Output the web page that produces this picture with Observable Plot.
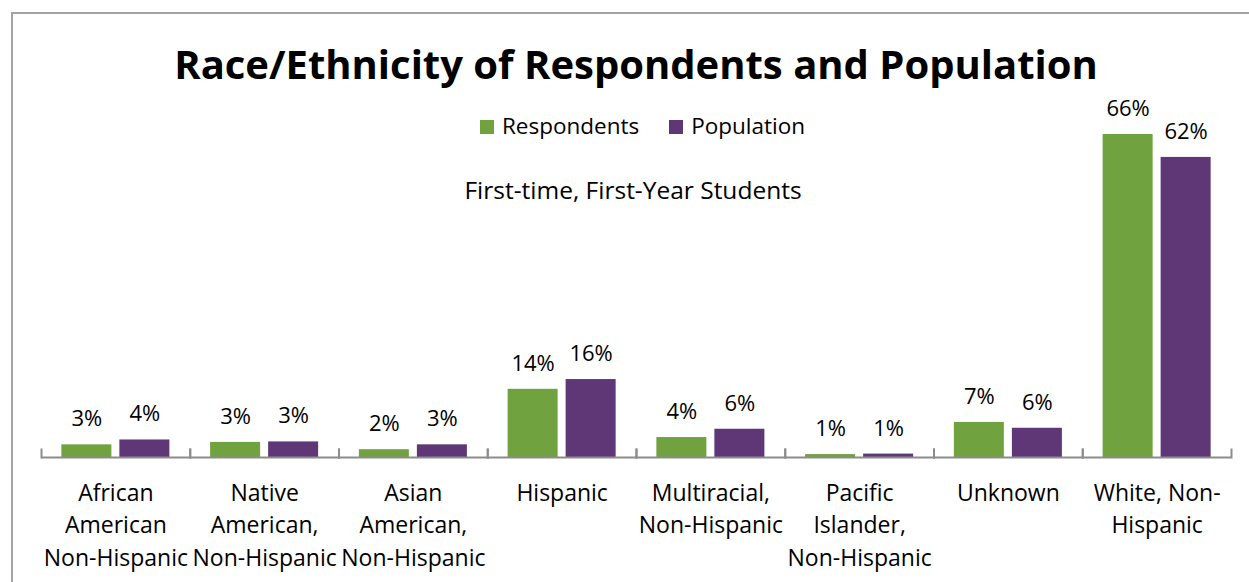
<!DOCTYPE html>
<html>
<head>
<meta charset="utf-8">
<script src="https://cdn.jsdelivr.net/npm/d3@7"></script>
<script src="https://cdn.jsdelivr.net/npm/@observablehq/plot@0.6"></script>
<style>
  html, body { margin: 0; padding: 0; background: #fff; }
  #wrap { position: relative; width: 1249px; height: 582px; overflow: hidden; background: #fff; font-family: "Open Sans", Lato, sans-serif; color: #000; }
  #border { position: absolute; left: 11px; top: 12px; width: 1400px; height: 800px; border: 2px solid #a3a3a3; box-sizing: border-box; }
  #chart { position: absolute; left: 0; top: 0; }
  .abs { position: absolute; white-space: nowrap; line-height: 1; box-sizing: border-box; }
  #title { left: 0; width: 1249px; text-align: center; top: 44px; font-size: 40px; font-weight: 700; padding-left: 23px; }
  #legend { left: 0; width: 1249px; top: 115px; font-size: 22.5px; display: flex; justify-content: center; padding-left: 36px; }
  .item { display: inline-flex; align-items: baseline; margin: 0 15px; }
  .sw { display: inline-block; width: 14px; height: 14px; margin-right: 8px; }
  #subtitle { left: 0; width: 1249px; padding-left: 17px; text-align: center; top: 178px; font-size: 24.5px; }
</style>
</head>
<body>
<div id="wrap">
  <div id="border"></div>
  <div id="chart"></div>
  <div id="title" class="abs"></div>
  <div id="legend" class="abs"></div>
  <div id="subtitle" class="abs"></div>
</div>
<script>
// ---- data ----
const titleText = "Race/Ethnicity of Respondents and Population";
const subtitleText = "First-time, First-Year Students";
const categories = [
  "African American Non-Hispanic",
  "Native American, Non-Hispanic",
  "Asian American, Non-Hispanic",
  "Hispanic",
  "Multiracial, Non-Hispanic",
  "Pacific Islander, Non-Hispanic",
  "Unknown",
  "White, Non-Hispanic"
];
const categoryLabels = [
  "African\nAmerican\nNon-Hispanic",
  "Native\nAmerican,\nNon-Hispanic",
  "Asian\nAmerican,\nNon-Hispanic",
  "Hispanic",
  "Multiracial,\nNon-Hispanic",
  "Pacific\nIslander,\nNon-Hispanic",
  "Unknown",
  "White, Non-\nHispanic"
];
const series = ["Respondents", "Population"];
const respondents = [2.6, 3.1, 1.6, 14.0, 4.1, 0.6, 7.2, 66.3];
const population  = [3.6, 3.2, 2.6, 16.0, 5.8, 0.7, 6.0, 61.6];
const colors = ["#70a33f", "#5f3776"];

// ---- build table ----
const rows = [];
categories.forEach((c, i) => {
  rows.push({category: c, series: series[0], value: respondents[i]});
  rows.push({category: c, series: series[1], value: population[i]});
});
const labelRows = categories.map((c, i) => ({category: c, label: categoryLabels[i]}));

const axisGray = "#8c8c8c";

const chart = Plot.plot({
  width: 1249,
  height: 582,
  marginLeft: 41,
  marginRight: 18,
  marginTop: 116,
  marginBottom: 125,
  style: {fontFamily: "'Open Sans', Lato, sans-serif", background: "transparent", overflow: "visible"},
  fx: {domain: categories, padding: 0, round: false, axis: null},
  x: {domain: series, paddingInner: 8 / 58, paddingOuter: 0.351, round: false, axis: null},
  y: {domain: [0, 70], axis: null},
  color: {domain: series, range: colors},
  marks: [
    Plot.barY(rows, {fx: "category", x: "series", y: "value", fill: "series"}),
    Plot.text(rows, {
      fx: "category", x: "series", y: "value",
      text: d => Math.round(d.value) + "%",
      lineAnchor: "bottom", dy: -18.5, fontSize: 22, fill: "#000"
    }),
    Plot.ruleY([0], {stroke: axisGray, strokeWidth: 2}),
    Plot.frame({anchor: "left", insetTop: 333, stroke: axisGray, strokeWidth: 2}),
    Plot.frame({anchor: "right", insetTop: 333, stroke: axisGray, strokeWidth: 2}),
    Plot.text(labelRows, {
      fx: "category", text: "label", frameAnchor: "bottom",
      lineAnchor: "top", dy: 20, fontSize: 23, lineHeight: 1.413, fill: "#000"
    })
  ]
});
document.getElementById("chart").appendChild(chart);

document.getElementById("title").textContent = titleText;
document.getElementById("subtitle").textContent = subtitleText;
const legend = document.getElementById("legend");
series.forEach((s, i) => {
  const item = document.createElement("span");
  item.className = "item";
  const sw = document.createElement("span");
  sw.className = "sw";
  sw.style.background = colors[i];
  const t = document.createElement("span");
  t.textContent = s;
  item.appendChild(sw);
  item.appendChild(t);
  legend.appendChild(item);
});
</script>
</body>
</html>
